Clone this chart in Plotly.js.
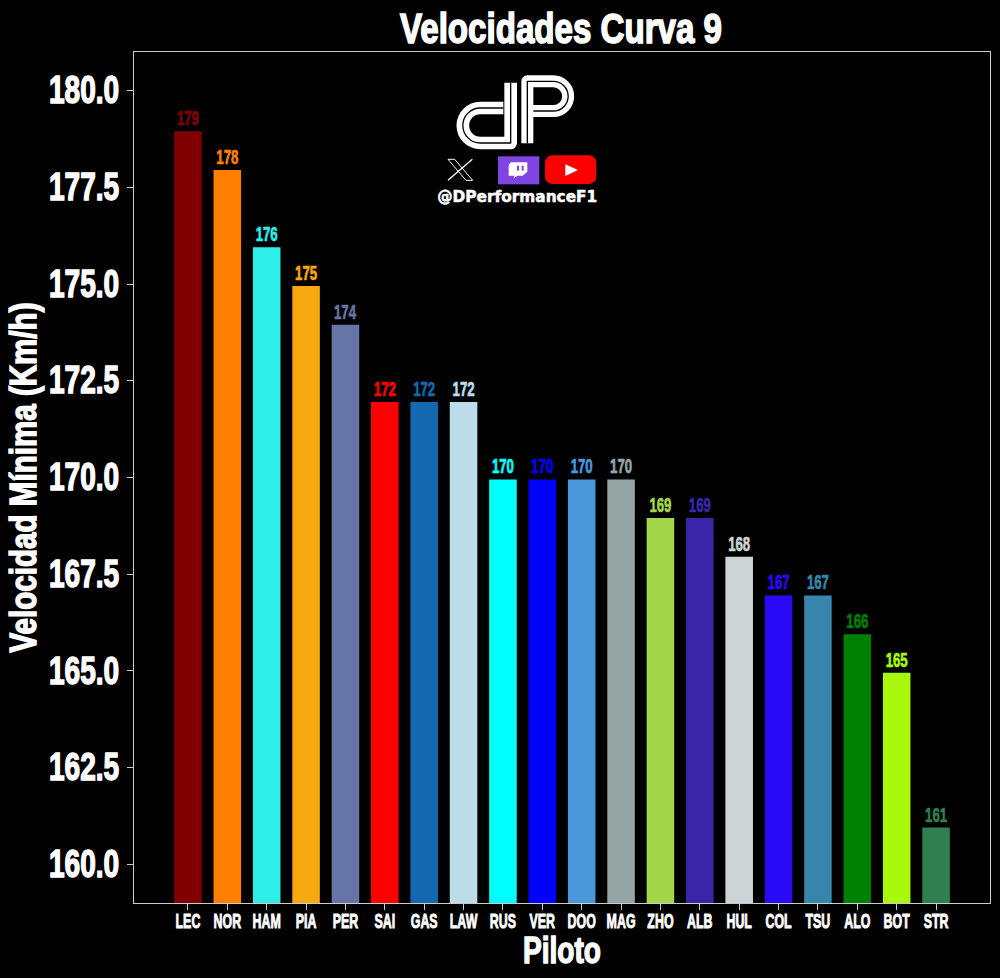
<!DOCTYPE html>
<html><head><meta charset="utf-8">
<script src="https://cdn.plot.ly/plotly-3.0.1.min.js"></script>
<style>html,body{margin:0;padding:0;background:#000}</style></head><body><div id="c" style="width:1000px;height:978px"></div>
<script>
const drivers=["LEC","NOR","HAM","PIA","PER","SAI","GAS","LAW","RUS","VER","DOO","MAG","ZHO","ALB","HUL","COL","TSU","ALO","BOT","STR"];
const speeds=[178.95,177.95,175.95,174.95,173.95,171.95,171.95,171.95,169.95,169.95,169.95,169.95,168.95,168.95,167.95,166.95,166.95,165.95,164.95,160.95];
const speedLabels=["179","178","176","175","174","172","172","172","170","170","170","170","169","169","168","167","167","166","165","161"];
const colors=["#800000","#ff8000","#2eeeea","#f5a90f","#6674a6","#ff0000","#1468b0","#bcdcea","#00ffff","#0000ff","#4a98da","#95a5a6","#a4d64a","#3a25a8","#ccd4d5","#2a0af5","#3585ad","#008000","#a8f90b","#2f7f50"];
const FONT='"Liberation Sans",sans-serif';
const logoSvg=`<svg xmlns="http://www.w3.org/2000/svg" width="600" height="480" viewBox="0 0 600 480">
<g fill="none" stroke-linejoin="round">
<path d="M272 68V249H181A52.5 52.5 0 0 1 181 144H250" stroke="#fff" stroke-width="38"/>
<path d="M272 68V249H181A52.5 52.5 0 0 1 181 144H250" stroke="#000" stroke-width="4"/>
<path d="M322 250V64H400A44.5 44.5 0 0 1 400 153H340" stroke="#fff" stroke-width="36"/>
<path d="M322 250V64H400A44.5 44.5 0 0 1 400 153H340" stroke="#000" stroke-width="4"/>
</g>
<g stroke="#fff" fill="none"><path d="M84 298L138 361H158L104 298Z" stroke-width="3"/><path d="M157 298L84 361" stroke-width="4"/></g>
<rect x="234" y="289" width="124" height="84" fill="#8045e0"/>
<path d="M266 315L272 307H322V335L308 347H292L282 355V347H266Z" fill="#fff"/>
<rect x="291" y="317" width="6" height="15" fill="#8045e0"/><rect x="305" y="317" width="6" height="15" fill="#8045e0"/>
<rect x="375" y="286" width="154" height="86" rx="22" fill="#f00"/>
<path d="M436 313L474 330L436 348Z" fill="#fff"/>
</svg>`;
const logoUri='data:image/svg+xml;base64,'+btoa(logoSvg);
const plotW=856,plotH=851;
function fit(sel,opt){
  document.querySelectorAll('#c '+sel).forEach(el=>{
    const len=el.getComputedTextLength();
    const target=opt.target||len*opt.factor;
    el.setAttribute('textLength',target);
    el.setAttribute('lengthAdjust','spacingAndGlyphs');
    el.style.stroke=el.style.fill;
    el.style.strokeWidth=opt.stroke+'px';
    if(opt.dx||opt.dy){
      el.setAttribute('transform',`translate(${opt.dx||0},${opt.dy||0}) `+(el.getAttribute('transform')||''));
    }
  });
}
function squeezeX(sel,f,stroke){
  document.querySelectorAll('#c '+sel).forEach(el=>{
    const x=parseFloat(el.getAttribute('x'))||0;
    const t=el.getAttribute('transform')||'';
    el.setAttribute('transform',`${t} translate(${x},0) scale(${f},1) translate(${-x},0)`);
    el.style.stroke=el.style.fill;
    el.style.strokeWidth=stroke+'px';
  });
}
Plotly.newPlot('c',[{
  type:'bar',x:drivers,y:speeds,width:0.7,
  marker:{color:colors},
  text:speedLabels,textposition:'outside',cliponaxis:false,constraintext:'none',
  textfont:{color:colors,size:20,family:FONT,weight:700},
  hoverinfo:'x+y'
}],{
  width:1000,height:978,
  margin:{l:134,r:10,t:52,b:75,pad:0},
  paper_bgcolor:'#000',plot_bgcolor:'#000',showlegend:false,
  font:{family:FONT,color:'#fff'},
  title:{text:'Velocidades Curva 9',x:0.561,xanchor:'center',y:0.970,yanchor:'middle',font:{size:42,color:'#fff',family:FONT,weight:700}},
  xaxis:{range:[-1.37,20.37],type:'category',dtick:1,showgrid:false,zeroline:false,showline:true,mirror:true,linecolor:'#ccc',linewidth:1,
    ticks:'outside',ticklen:6,tickcolor:'#ccc',tickangle:0,ticklabelstandoff:-6,tickfont:{size:20,color:'#fff',family:FONT,weight:700},
    title:{text:'Piloto',standoff:2,font:{size:36,color:'#fff',family:FONT,weight:700}}},
  yaxis:{range:[159,181],dtick:2.5,tick0:160,tickformat:'.1f',showgrid:false,zeroline:false,showline:true,mirror:true,linecolor:'#ccc',linewidth:1,
    ticks:'outside',ticklen:6,tickcolor:'#ccc',tickfont:{size:39,color:'#fff',family:FONT,weight:700},
    title:{text:'Velocidad Mínima (Km/h)',standoff:6,font:{size:37,color:'#fff',family:FONT,weight:700}}},
  images:[{source:logoUri,xref:'paper',yref:'paper',x:(420-134)/plotW,y:1-(60-52)/plotH,sizex:200/plotW,sizey:160/plotH,xanchor:'left',yanchor:'top',sizing:'stretch',layer:'above'}],
  annotations:[{text:'@DPerformanceF1',xref:'paper',yref:'paper',x:(517-134)/plotW,y:1-(197-52)/plotH,showarrow:false,xanchor:'center',yanchor:'middle',font:{size:15,color:'#fff',family:'"DejaVu Sans",sans-serif',weight:700}}]
},{displayModeBar:false}).then(()=>{
  squeezeX('.xtick text',.62,.9);
  fit('.ytick text',{factor:.72,stroke:1.5,dy:-1});
  fit('.gtitle',{target:322,stroke:1.6,dy:-1});
  fit('.xtitle',{target:78,stroke:1.4,dy:-2});
  fit('.ytitle',{target:350,stroke:1.5,dx:3});
  fit('.point text, .bartext',{factor:.66,stroke:.7,dy:1});
  fit('.annotation-text',{target:160,stroke:.5});
});
</script></body></html>
